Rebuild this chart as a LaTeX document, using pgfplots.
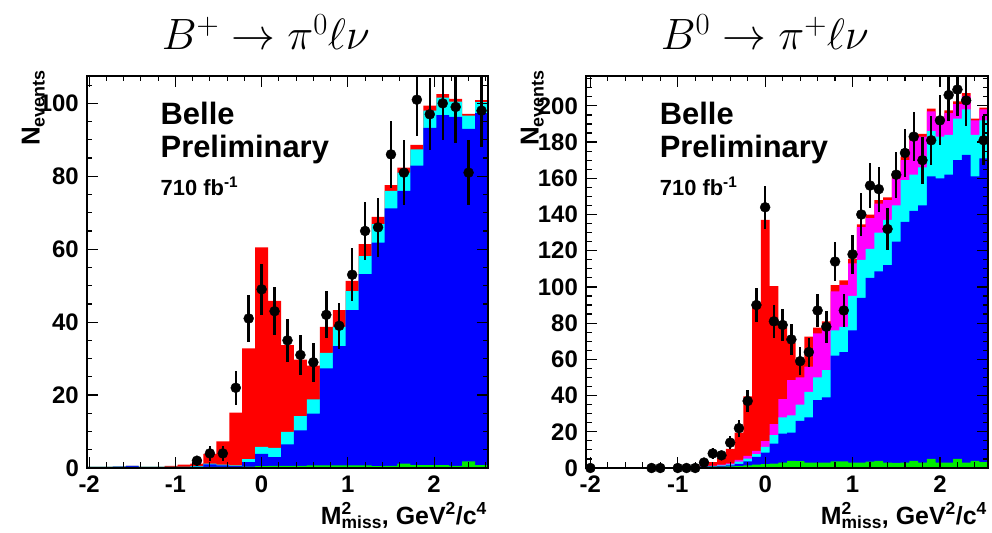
\RequirePackage{fix-cm}
\documentclass[border=0pt]{standalone}
\usepackage{fontspec}
\setmainfont{Liberation Sans}
\usepackage{pgfplots}
\usepackage{pgfplotstable}
\pgfplotsset{compat=1.18}

\definecolor{hred}{rgb}{1,0,0}
\definecolor{hmag}{rgb}{1,0,1}
\definecolor{hcyan}{rgb}{0,1,1}
\definecolor{hblue}{rgb}{0,0,1}
\definecolor{hgreen}{rgb}{0,0.93,0}

% B+ -> pi0 l nu : 0.15 GeV^2/c^4 bins, left bin edges, cumulative stack heights
% g = other, b = + continuum, c = + b->c, r = + signal
\pgfplotstableread{
edge    g    b     c     r
-2.025  0.3  0.3   0.3   0.3
-1.875  0.3  0.3   0.3   0.3
-1.725  0.3  0.4   0.4   0.4
-1.575  0.3  0.6   0.6   0.6
-1.425  0.3  0.3   0.3   0.3
-1.275  0.3  0.3   0.3   0.3
-1.125  0.3  0.3   0.3   0.6
-0.975  0.3  0.3   0.3   0.9
-0.825  0.3  0.4   0.5   1.2
-0.675  0.3  1.0   1.2   3.9
-0.525  0.3  0.7   0.9   7.3
-0.375  0.3  0.5   0.7   15.2
-0.225  0.4  1.6   2.4   32.8
-0.075  0.5  3.9   5.8   60.5
 0.075  0.6  3.0   5.5   45.8
 0.225  0.6  6.5   9.9   33.7
 0.375  0.6  10.3  14.2  29.7
 0.525  0.7  14.9  18.8  28.1
 0.675  0.7  27.3  31.6  38.7
 0.825  0.7  33.4  38.7  43.3
 0.975  0.7  43.3  48.5  51.3
 1.125  0.7  53.2  58.1  61.4
 1.275  0.5  61.8  66.9  68.9
 1.425  0.6  71.2  76.0  77.6
 1.575  1.2  76.0  81.0  82.4
 1.725  0.8  82.9  87.4  88.6
 1.875  0.8  93.3  98.0  99.4
 2.025  0.8  96.8  101.6 102.5
 2.175  0.6  96.3  100.5 101.2
 2.325  1.8  93.0  96.6  97.1
 2.475  0.8  97.3  100.3 100.9
 2.625  0.8  97.3  100.3 100.9
}\chargedstack

% B+ data: bin centre, events, statistical error
\pgfplotstableread{
x      y    e
-0.75  2    1.41
-0.60  4    2.00
-0.45  4    2.00
-0.30  22   4.69
-0.15  41   6.40
 0.00  49   7.00
 0.15  43   6.56
 0.30  35   5.92
 0.45  31   5.57
 0.60  29   5.39
 0.75  42   6.48
 0.90  39   6.24
 1.05  53   7.28
 1.20  65   8.06
 1.35  66   8.12
 1.50  86   9.27
 1.65  81   9.00
 1.80  101  10.05
 1.95  97   9.85
 2.10  100  10.00
 2.25  99   9.95
 2.40  81   9.00
 2.55  98   9.90
}\chargeddata

% B0 -> pi+ l nu : 0.1 GeV^2/c^4 bins, left bin edges, cumulative stack heights
\pgfplotstableread{
edge   g    b     c     m     r
-2.05  0.4  0.4   0.4   0.4   0.4
-1.95  0.4  0.4   0.4   0.4   0.4
-1.85  0.4  0.4   0.4   0.4   0.4
-1.75  0.4  0.4   0.4   0.4   0.4
-1.65  0.4  0.4   0.4   0.4   0.4
-1.55  0.4  0.4   0.4   0.4   0.4
-1.45  0.4  0.4   0.4   0.4   0.4
-1.35  0.4  0.4   0.4   0.4   0.4
-1.25  0.4  0.4   0.4   0.4   0.4
-1.15  0.4  0.4   0.4   0.4   0.4
-1.05  0.4  0.4   0.4   0.4   0.4
-0.95  0.4  0.4   0.4   0.4   0.4
-0.85  0.5  0.5   0.5   0.5   0.8
-0.75  0.6  0.7   0.8   0.9   1.8
-0.65  0.7  0.9   1.1   1.3   3.2
-0.55  0.8  1.1   1.4   1.8   5.5
-0.45  0.9  1.4   2.0   2.6   10.5
-0.35  1.1  2.3   3.5   4.5   19.5
-0.25  1.4  3.7   5.2   6.7   39.5
-0.15  1.8  6.1   7.6   9.4   91.0
-0.05  2.2  8.5   11.6  14.8  137.0
 0.05  2.4  13.5  18.1  24.2  100.5
 0.15  3.0  19.0  28.0  38.0  78.0
 0.25  4.0  19.5  29.0  48.6  69.0
 0.35  3.8  26.0  35.0  50.0  58.0
 0.45  3.0  28.0  42.0  56.0  72.6
 0.55  3.0  37.5  50.0  74.4  77.5
 0.65  3.0  39.0  54.0  79.0  81.0
 0.75  3.7  62.0  76.0  97.5  101.0
 0.85  3.7  64.0  78.0  101.2 103.6
 0.95  3.0  76.0  95.0  113.0 115.5
 1.05  3.0  94.0  115.0 133.0 134.5
 1.15  3.5  105.0 121.0 138.0 140.0
 1.25  3.9  108.6 130.0 146.0 148.0
 1.35  3.0  112.0 137.0 148.0 149.5
 1.45  2.8  125.0 145.0 160.0 161.5
 1.55  3.0  136.0 159.0 170.0 172.0
 1.65  4.0  142.0 162.0 181.0 182.5
 1.75  3.0  145.0 166.0 183.0 184.5
 1.85  5.0  161.0 186.0 197.0 198.5
 1.95  3.0  160.0 183.0 192.0 193.0
 2.05  3.0  162.0 184.0 196.0 197.5
 2.15  5.0  170.0 193.0 201.0 202.5
 2.25  3.0  173.0 198.0 205.5 207.0
 2.35  4.0  161.0 184.0 192.0 193.0
 2.45  3.3  171.0 192.0 198.0 199.0
 2.55  3.3  171.0 192.0 198.0 199.0
}\neutralstack

% B0 data: bin centre, events, statistical error
\pgfplotstableread{
x     y    e
-2.0  0    0
-1.3  0    0
-1.2  0    0
-1.0  0    0
-0.9  0    0
-0.8  0    0
-0.7  3    1.73
-0.6  8    2.83
-0.5  7    2.65
-0.4  14   3.74
-0.3  22   4.69
-0.2  37   6.08
-0.1  90   9.49
 0.0  144  12.00
 0.1  81   9.00
 0.2  79   8.89
 0.3  71   8.43
 0.4  59   7.68
 0.5  64   8.00
 0.6  87   9.33
 0.7  78   8.83
 0.8  114  10.68
 0.9  87   9.33
 1.0  118  10.86
 1.1  140  11.83
 1.2  156  12.49
 1.3  154  12.41
 1.4  132  11.49
 1.5  162  12.73
 1.6  174  13.19
 1.7  183  13.53
 1.8  170  13.04
 1.9  181  13.45
 2.0  192  13.86
 2.1  206  14.35
 2.2  209  14.46
 2.3  203  14.25
 2.5  181  13.45
}\neutraldata

\pgfplotsset{
  belle/.style={
    scale only axis, width=401bp, height=392bp,
    axis on top, clip mode=individual,
    axis line style={line width=1.5bp},
    tick align=inside,
    major tick length=11bp, minor tick length=5.5bp,
    every tick/.style={black, line width=1.2bp},
    xtick={-2,-1,0,1,2},
    minor xtick={-1.8,-1.6,...,2.61},
    tick label style={font=\fontsize{24}{24}\selectfont\bfseries, inner sep=1bp},
    xticklabel style={yshift=-7bp},
    yticklabel style={xshift=-7bp},
    /pgf/number format/assume math mode=true,
    ymin=0,
  },
  databars/.style={
    only marks, mark=*, mark size=5bp, black, mark options={fill=black},
    error bars/.cd, y dir=both, y explicit,
    error bar style={line width=2.4bp, black}, error mark=none,
  },
}

\newcommand{\belletag}{%
  \node[anchor=base west, font=\fontsize{31}{31}\selectfont\bfseries] at (rel axis cs:0.175,0.875) {Belle};
  \node[anchor=base west, font=\fontsize{31}{31}\selectfont\bfseries] at (rel axis cs:0.175,0.791) {Preliminary};
  \node[anchor=base west, font=\fontsize{22}{22}\selectfont\bfseries] at (rel axis cs:0.175,0.696) {710 fb\textsuperscript{-1}};
  \node[anchor=base east, font=\fontsize{25}{25}\selectfont\bfseries, inner sep=1bp, yshift=-56bp] at (rel axis cs:1,0)
    {M\rlap{\textsuperscript{2}}\textsubscript{miss}, GeV\textsuperscript{2}/c\textsuperscript{4}};
  \node[anchor=south east, xshift=-42bp, yshift=6bp, rotate=90, inner sep=0pt] at (rel axis cs:0,1)
    {\bfseries{\fontsize{26}{26}\selectfont N}\raisebox{-5bp}{\fontsize{18}{18}\selectfont events}};
}

\begin{document}
\begin{tikzpicture}
\useasboundingbox (0,0) rectangle (992bp,533bp);

\begin{axis}[belle, at={(87bp,65bp)}, anchor=south west,
  xmin=-2.025, xmax=2.625, ymax=107.5,
  ytick={0,20,...,100}, minor ytick={5,10,...,105}]
  \addplot[fill=hred,   draw=none, const plot] table[x=edge, y=r] {\chargedstack} \closedcycle;
  \addplot[fill=hcyan,  draw=none, const plot] table[x=edge, y=c] {\chargedstack} \closedcycle;
  \addplot[fill=hblue,  draw=none, const plot] table[x=edge, y=b] {\chargedstack} \closedcycle;
  \addplot[fill=hgreen, draw=none, const plot] table[x=edge, y=g] {\chargedstack} \closedcycle;
  \addplot[databars] table[x=x, y=y, y error=e] {\chargeddata};
  \belletag
  \node[anchor=base, font=\fontsize{44}{52}\selectfont, yshift=26bp] at (rel axis cs:0.446,1)
    {$B^{+}\to\pi^{0}\ell\nu$};
\end{axis}

\begin{axis}[belle, at={(586bp,65bp)}, anchor=south west,
  width=402bp,
  xmin=-2.05, xmax=2.55, ymax=216.5,
  ytick={0,20,...,200}, minor ytick={5,10,...,215}]
  \addplot[fill=hred,   draw=none, const plot] table[x=edge, y=r] {\neutralstack} \closedcycle;
  \addplot[fill=hmag,   draw=none, const plot] table[x=edge, y=m] {\neutralstack} \closedcycle;
  \addplot[fill=hcyan,  draw=none, const plot] table[x=edge, y=c] {\neutralstack} \closedcycle;
  \addplot[fill=hblue,  draw=none, const plot] table[x=edge, y=b] {\neutralstack} \closedcycle;
  \addplot[fill=hgreen, draw=none, const plot] table[x=edge, y=g] {\neutralstack} \closedcycle;
  \addplot[databars] table[x=x, y=y, y error=e] {\neutraldata};
  \belletag
  \node[anchor=base, font=\fontsize{44}{52}\selectfont, yshift=26bp] at (rel axis cs:0.445,1)
    {$B^{0}\to\pi^{+}\ell\nu$};
\end{axis}
\end{tikzpicture}
\end{document}
